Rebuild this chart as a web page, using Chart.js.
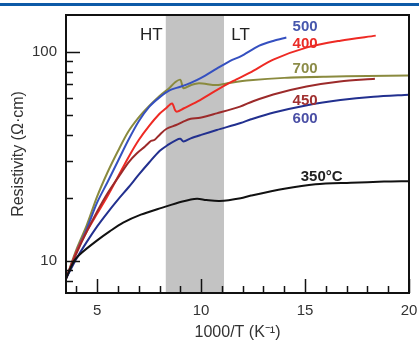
<!DOCTYPE html>
<html>
<head>
<meta charset="utf-8">
<script src="https://cdn.jsdelivr.net/npm/chart.js@4.4.0/dist/chart.umd.min.js"></script>
<style>
html, body { margin: 0; padding: 0; background: #fff; }
</style>
</head>
<body>
<canvas id="chart" width="419" height="343"></canvas>
<script>
// Resistivity vs 1000/T for films annealed at different temperatures

// x = 1000/T values and resistivity per anneal temperature
const x350 = [3.5, 3.9, 4.3, 5.0, 5.6, 6.25, 7.1, 8.1, 9.1, 9.8, 10.25, 10.9, 11.9, 12.4, 14.0, 15.5, 17.2, 18.8, 20.0];
const r350 = [8.2, 10.0, 11.0, 12.5, 13.8, 15.2, 16.6, 17.9, 19.2, 19.8, 19.5, 19.3, 19.9, 20.5, 22.1, 23.2, 23.6, 23.9, 24.0];

const x400 = [3.5, 4.0, 4.5, 5.0, 5.5, 6.0, 6.5, 7.0, 7.5, 8.0, 8.3, 8.6, 8.75, 8.85, 9.15, 9.95, 10.75, 11.55, 12.35, 13.5, 15.1, 16.7, 18.4];
const r400 = [8.2, 11.0, 13.8, 16.8, 20.4, 25.2, 31.2, 37.8, 44.2, 50.5, 53.5, 56.6, 52.5, 51.7, 53.5, 58.7, 65.6, 72.5, 79.5, 92, 105, 113, 119.5];

const x450 = [3.5, 4.0, 4.5, 5.0, 5.5, 6.1, 6.5, 6.9, 7.3, 7.6, 7.75, 8.0, 8.34, 8.8, 9.14, 9.5, 9.95, 10.75, 11.87, 12.5, 13.47, 15.07, 16.67, 18.36];
const r450 = [8.2, 10.8, 13.8, 17.2, 21.0, 25.8, 29.5, 32.6, 35.2, 37.5, 37.8, 40.0, 42.8, 44.6, 46.3, 47.8, 48.3, 50.7, 54.6, 58.0, 62.5, 68.2, 72.1, 74.3];

const x500 = [3.5, 4.0, 4.5, 5.0, 5.5, 6.0, 6.5, 7.0, 7.5, 8.0, 8.5, 9.0, 9.5, 10.0, 10.75, 11.4, 11.9, 12.8, 13.5, 14.1];
const r500 = [8.2, 11.0, 14.2, 19.0, 23.8, 30.0, 37.8, 46.5, 54.5, 60.5, 65.5, 68.0, 71.0, 75.0, 83.0, 90.5, 95.0, 107, 113, 117];

const x600 = [3.5, 4.0, 4.5, 5.0, 5.5, 6.0, 6.5, 7.0, 7.5, 8.0, 8.4, 8.8, 9.0, 9.15, 9.5, 10.0, 10.75, 11.9, 12.4, 13.5, 15.1, 16.7, 18.3, 20.0];
const r600 = [8.2, 10.2, 12.3, 14.6, 17.0, 19.6, 22.4, 25.8, 29.5, 33.5, 35.8, 37.8, 38.3, 37.2, 38.5, 40.0, 42.2, 45.6, 47.5, 51.2, 55.5, 58.7, 60.9, 62.3];

const x700 = [3.5, 4.0, 4.5, 5.0, 5.5, 6.0, 6.5, 7.0, 7.5, 8.0, 8.5, 8.75, 9.0, 9.15, 9.5, 9.9, 10.75, 11.4, 12.35, 14.0, 16.0, 18.0, 20.0];
const r700 = [8.2, 11.3, 14.8, 20.3, 26.5, 33.5, 41.5, 48.5, 55.0, 61.5, 67.5, 71.5, 73.5, 67.0, 69.2, 70.6, 69.3, 71.0, 73.0, 75.0, 76.0, 76.5, 77.0];

// axis ticks
const xTicks = [4, 5, 6, 7, 8, 9, 10, 11, 12, 13, 14, 15, 16, 17, 18, 19, 20];
const xLabeled = [5, 10, 15, 20];
const yTicks = [8, 9, 10, 20, 30, 40, 50, 60, 70, 80, 90, 100];
const yLabeled = [10, 100];

// shaded HT/LT transition band
const bandFrom = 8.3;
const bandTo = 11.1;

const FONT = "'Liberation Sans', Arial, sans-serif";

function pts(xs, ys) {
	return xs.map((x, i) => ({ x: x, y: ys[i] }));
}

function series(label, xs, ys, color) {
	return {
		label: label,
		data: pts(xs, ys),
		borderColor: color,
		borderWidth: 2,
		pointRadius: 0,
		tension: 0.3,
		fill: false
	};
}

// header rule, band, frame, inward ticks and text labels
const decor = {
	id: 'decor',
	beforeDraw(chart) {
		const ctx = chart.ctx;
		ctx.save();
		ctx.fillStyle = '#0d5aa7';
		ctx.fillRect(0, 3, chart.width, 3);
		ctx.restore();
	},
	beforeDatasetsDraw(chart) {
		const { ctx, chartArea: a, scales } = chart;
		const x1 = scales.x.getPixelForValue(bandFrom);
		const x2 = scales.x.getPixelForValue(bandTo);
		ctx.save();
		ctx.fillStyle = '#c3c3c3';
		ctx.fillRect(x1, a.top, x2 - x1, a.bottom - a.top);
		ctx.restore();
	},
	afterDatasetsDraw(chart) {
		const { ctx, chartArea: a, scales } = chart;
		ctx.save();
		ctx.strokeStyle = '#111';
		ctx.lineWidth = 2;
		ctx.strokeRect(a.left, a.top, a.right - a.left, a.bottom - a.top);
		ctx.lineWidth = 1.5;
		ctx.beginPath();
		xTicks.forEach(v => {
			const px = Math.round(scales.x.getPixelForValue(v)) + 0.5;
			const len = xLabeled.includes(v) ? 14 : 7;
			ctx.moveTo(px, a.bottom);
			ctx.lineTo(px, a.bottom - len);
		});
		yTicks.forEach(v => {
			const py = Math.round(scales.y.getPixelForValue(v)) + 0.5;
			const len = yLabeled.includes(v) ? 14 : 7;
			ctx.moveTo(a.left, py);
			ctx.lineTo(a.left + len, py);
		});
		ctx.stroke();

		// text labels placed in data coordinates
		const put = (text, x, y, color, bold, size) => {
			ctx.font = (bold ? 'bold ' : '') + size + 'px ' + FONT;
			ctx.fillStyle = color;
			ctx.textAlign = 'center';
			ctx.textBaseline = 'middle';
			ctx.fillText(text, scales.x.getPixelForValue(x), scales.y.getPixelForValue(y));
		};
		put('HT', 7.6, 120, '#222', false, 17);
		put('LT', 11.9, 120, '#222', false, 17);
		put('500', 15.0, 132, '#4657ad', true, 15);
		put('400', 15.0, 109, '#ea2b26', true, 15);
		put('700', 15.0, 82.5, '#8c8c48', true, 15);
		put('450', 15.0, 58.5, '#a03030', true, 15);
		put('600', 15.0, 47.8, '#4a4fa5', true, 15);
		put('350°C', 15.8, 25.3, '#222', true, 15);
		ctx.restore();
	}
};

new Chart(document.getElementById('chart'), {
	type: 'line',
	data: {
		datasets: [
			series('350', x350, r350, '#111111'),
			series('600', x600, r600, '#22308f'),
			series('450', x450, r450, '#9c2a2a'),
			series('400', x400, r400, '#ee2a24'),
			series('500', x500, r500, '#3550c0'),
			series('700', x700, r700, '#8a8a3e')
		]
	},
	options: {
		responsive: false,
		animation: false,
		layout: { padding: { top: 15, right: 10, left: 0, bottom: 0 } },
		plugins: {
			legend: { display: false },
			tooltip: { enabled: false }
		},
		scales: {
			x: {
				type: 'linear',
				min: 3.5,
				max: 20,
				afterBuildTicks: s => { s.ticks = xTicks.map(v => ({ value: v })); },
				afterFit: s => { s.height = 50; s.paddingLeft = 0; s.paddingRight = 0; },
				grid: { display: false, drawTicks: false },
				border: { display: false },
				ticks: {
					autoSkip: false,
					maxRotation: 0,
					padding: 9,
					color: '#333',
					font: { family: FONT, size: 15 },
					callback: v => xLabeled.includes(v) ? String(v) : ''
				},
				title: {
					display: true,
					text: '1000/T (K⁻¹)',
					color: '#333',
					font: { family: FONT, size: 16 },
					padding: { bottom: 1 }
				}
			},
			y: {
				type: 'logarithmic',
				min: 7,
				max: 150,
				afterBuildTicks: s => { s.ticks = yTicks.map(v => ({ value: v })); },
				afterFit: s => { s.width = 66; s.paddingTop = 0; s.paddingBottom = 0; },
				grid: { display: false, drawTicks: false },
				border: { display: false },
				ticks: {
					autoSkip: false,
					padding: 9,
					color: '#333',
					font: { family: FONT, size: 15 },
					callback: v => yLabeled.includes(v) ? String(v) : ''
				},
				title: {
					display: true,
					text: 'Resistivity (Ω·cm)',
					color: '#333',
					font: { family: FONT, size: 16 },
					padding: { top: 9 }
				}
			}
		}
	},
	plugins: [decor]
});
</script>
</body>
</html>
